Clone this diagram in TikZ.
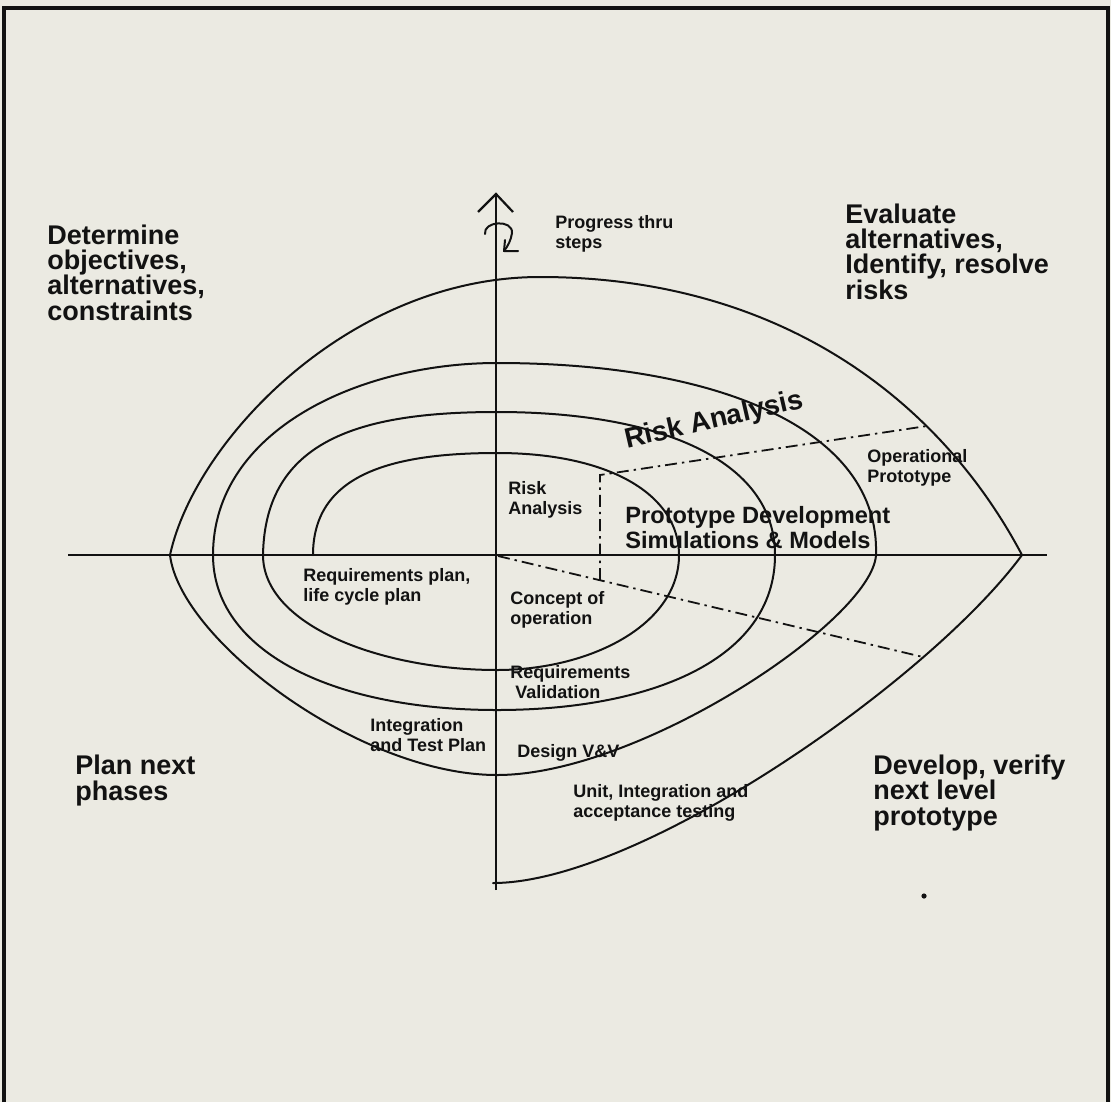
\documentclass[tikz,border=0pt]{standalone}
\usepackage{fontspec}
\setmainfont{Liberation Sans}
\definecolor{paper}{RGB}{235,234,226}
\definecolor{ink}{RGB}{18,18,18}
\begin{document}
\begin{tikzpicture}[x=0.5pt,y=-0.5pt,
  curve/.style={draw=ink,line width=1pt,line join=round,line cap=round},
  axisline/.style={draw=ink,line width=1.1pt},
  frameline/.style={draw=ink,line width=1.6pt},
  dashdot/.style={draw=ink,line width=0.9pt,dash pattern=on 6pt off 2.5pt on 1.2pt off 2.5pt},
  quad/.style={text=ink,font=\fontsize{13.5}{12.6}\selectfont\bfseries,align=left,anchor=base west,inner sep=0pt},
  mid/.style={text=ink,font=\fontsize{11.8}{12.5}\selectfont\bfseries,align=left,anchor=base west,inner sep=0pt},
  small/.style={text=ink,font=\fontsize{9}{10}\selectfont\bfseries,align=left,anchor=base west,inner sep=0pt}]
\fill[paper] (0,0) rectangle (1111,1102);
\useasboundingbox (0,0) rectangle (1111,1102);
% frame
\coordinate (fbl) at (4,1102);
\coordinate (ftl) at (4,8);
\coordinate (ftr) at (1108,8);
\coordinate (fbr) at (1108,1102);
\draw[frameline] (fbl) -- (ftl) -- (ftr) -- (fbr);
% axes
\coordinate (xl) at (68,555);
\coordinate (xr) at (1047,555);
\coordinate (yt) at (496,194);
\coordinate (yb) at (496,890);
\coordinate (al) at (478,212);
\coordinate (ar) at (513,212);
\draw[axisline] (xl) -- (xr);
\draw[axisline] (yb) -- (yt);
\draw[axisline] (al) -- (yt) -- (ar);
% curl arrow
\coordinate (cs) at (485,234);
\coordinate (ct) at (504,251);
\coordinate (ca) at (505,240);
\coordinate (cb) at (518,251);
\draw[curve] (cs) .. controls (483,221) and (513,219) .. (512,233) .. controls (511,240) and (508,246) .. (ct);
\draw[curve] (ca) -- (ct) -- (cb);
% spiral: quarter arcs between axis crossings
\coordinate (s0) at (313,555);
\coordinate (t1) at (497,453);
\coordinate (r1) at (679,555);
\coordinate (b1) at (497,670);
\coordinate (l1) at (263,555);
\coordinate (t2) at (497,412);
\coordinate (r2) at (775,555);
\coordinate (b2) at (497,710);
\coordinate (l2) at (213,555);
\coordinate (t3) at (497,363);
\coordinate (r3) at (876,555);
\coordinate (b3) at (497,775);
\coordinate (l3) at (170,555);
\coordinate (t4) at (540,277);
\coordinate (r4) at (1022,555);
\coordinate (e4) at (493,883);
\draw[curve] (s0) .. controls (313,475) and (390,453) .. (t1)
  .. controls (610,453) and (679,495) .. (r1)
  .. controls (679,625) and (590,670) .. (b1)
  .. controls (380,670) and (263,625) .. (l1)
  .. controls (265,440) and (360,412) .. (t2)
  .. controls (660,412) and (775,460) .. (r2)
  .. controls (775,660) and (650,710) .. (b2)
  .. controls (330,710) and (213,650) .. (l2)
  .. controls (213,430) and (360,363) .. (t3)
  .. controls (720,363) and (880,430) .. (r3)
  .. controls (872,620) and (640,775) .. (b3)
  .. controls (360,775) and (180,640) .. (l3)
  .. controls (195,440) and (350,277) .. (t4)
  .. controls (780,277) and (940,400) .. (r4)
  .. controls (930,680) and (640,883) .. (e4);
% dash-dot boundaries
\coordinate (d1a) at (600,475);
\coordinate (d1b) at (927,426);
\coordinate (d2b) at (600,580);
\coordinate (d3a) at (498,556);
\coordinate (d3b) at (923,657);
\draw[dashdot] (d2b) -- (d1a) -- (d1b);
\draw[dashdot] (d3a) -- (d3b);
% quadrant labels (positions are last-line baselines)
\node[quad] (det) at (47,320) {Determine\\objectives,\\alternatives,\\constraints};
\node[quad] (eva) at (845,299) {Evaluate\\alternatives,\\Identify, resolve\\risks};
\node[quad] (pln) at (75,800) {Plan next\\phases};
\node[quad] (dev) at (873,825) {Develop, verify\\next level\\prototype};
% inner labels
\node[small] (prog) at (555,248) {Progress thru\\steps};
\node[small] (ra) at (508,514) {Risk\\Analysis};
\node[small] (op) at (867,482) {Operational\\Prototype};
\node[mid] (proto) at (625,548) {Prototype Development\\Simulations \& Models};
\node[small] (req) at (303,601) {Requirements plan,\\life cycle plan};
\node[small] (con) at (510,624) {Concept of\\operation};
\node[small] (rv) at (510,698) {Requirements\\\kern2.5pt Validation};
\node[small] (itp) at (370,751) {Integration\\and Test Plan};
\node[small] (dvv) at (517,757) {Design V\&V};
\node[small] (unit) at (573,817) {Unit, Integration and\\acceptance testing};
\node[text=ink,font=\fontsize{14}{14}\selectfont\bfseries,anchor=base,inner sep=0pt,rotate=13] (rbig) at (716,428) {Risk Analysis};
% stray mark
\fill[ink] (924,896) circle (1.3pt);
\end{tikzpicture}
\end{document}
